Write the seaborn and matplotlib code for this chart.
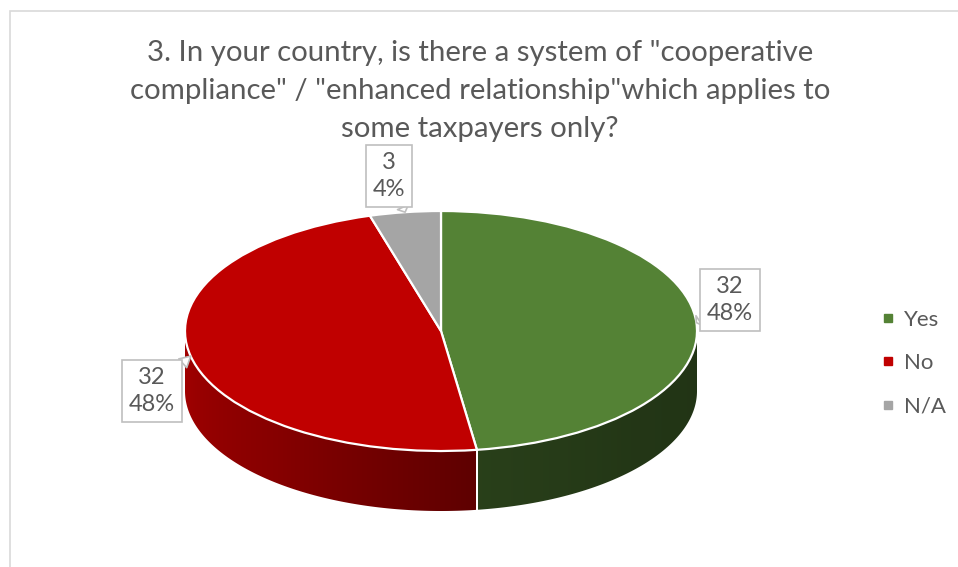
import numpy as np
import matplotlib
matplotlib.use("Agg")
import matplotlib.pyplot as plt
import seaborn as sns
from matplotlib.colors import to_rgb
from matplotlib.lines import Line2D
from matplotlib.patches import Rectangle, Polygon

# ---- data ----
categories = ["Yes", "No", "N/A"]
counts = [32, 32, 3]
slice_colors = ["#548235", "#C00000", "#A5A5A5"]
title_text = ('3. In your country, is there a system of "cooperative\n'
              'compliance" / "enhanced relationship"which applies to\n'
              'some taxpayers only?')

sns.set_theme(style="white")
plt.rcParams["font.family"] = ["Lato", "DejaVu Sans"]
TEXT = "#595959"

W, H = 958, 567
fig = plt.figure(figsize=(W / 100, H / 100), dpi=100)
ax = fig.add_axes([0, 0, 1, 1])

# pie placement (pixels): centre, horizontal / vertical radius, wall depth
cx, cy, rx, ry, depth = 441, 331, 256, 120, 60
d = depth / ry


def to_data(px, py):
    return (px - cx) / rx, (cy - py) / ry


# top face
wedges, _ = ax.pie(counts, colors=slice_colors, startangle=90, counterclock=False,
                   radius=1, wedgeprops=dict(edgecolor="white", linewidth=1.6))
for w in wedges:
    w.set_zorder(5)

ax.set_aspect("auto")
ax.axis("off")

# side walls of the visible (front) half, shaded from left to right
fracs = np.array(counts) / np.sum(counts)
cum = np.concatenate([[0], np.cumsum(fracs)])
starts = 90 - 360 * cum[:-1]
ends = 90 - 360 * cum[1:]
shade_t = [-180, -130, -82, -40, 0]
shade_f = [0.85, 0.70, 0.49, 0.42, 0.40]

xgrid = np.linspace(-1, 1, 600)
t_of_x = -np.degrees(np.arccos(xgrid))          # front-half angle for each x
shade_x = np.interp(t_of_x, shade_t, shade_f)

for s, e, col in zip(starts, ends, slice_colors):
    lo, hi = max(e, -180), min(s, 0)
    if hi <= lo:
        continue
    base = np.array(to_rgb(col))
    tt = np.radians(np.linspace(lo, hi, 200))
    xs, ys = np.cos(tt), np.sin(tt)
    outline = Polygon(np.column_stack([np.concatenate([xs, xs[::-1]]),
                                       np.concatenate([ys, ys[::-1] - d])]),
                      closed=True, fc="none", ec="none", transform=ax.transData)
    ax.add_patch(outline)
    grad = np.clip(base[None, None, :] * shade_x[None, :, None], 0, 1)
    img = ax.imshow(grad, extent=(-1, 1, -1 - d, 0.05), aspect="auto",
                    origin="lower", interpolation="bilinear", zorder=2)
    img.set_clip_path(outline)
    # white seam where walls of two slices meet
    for t in (lo, hi):
        if -180 < t < 0:
            r = np.radians(t)
            ax.plot([np.cos(r)] * 2, [np.sin(r), np.sin(r) - d],
                    color="white", lw=1.4, zorder=3)

ax.set_xlim(-cx / rx, (W - cx) / rx)
ax.set_ylim((cy - H) / ry, cy / ry)

# callout labels
label_boxes = [(730, 300), (152, 391), (389, 176)]
mids = (starts + ends) / 2
for cnt, fr, m, (bx, by) in zip(counts, fracs, mids, label_boxes):
    r = np.radians(m)
    ax.annotate(f"{cnt}\n{fr * 100:.0f}%", xy=(np.cos(r), np.sin(r)),
                xytext=to_data(bx, by), ha="center", va="center",
                fontsize=17, color=TEXT, linespacing=1.3, zorder=8,
                bbox=dict(boxstyle="square,pad=0.3", fc="white", ec="#BFBFBF", lw=1.2),
                arrowprops=dict(arrowstyle="wedge,tail_width=0.5", fc="white",
                                ec="#BFBFBF", lw=1.2, shrinkA=0, shrinkB=0))

# legend
handles = [Line2D([], [], marker="s", ls="", color=c, markersize=6) for c in slice_colors]
fig.legend(handles, categories, loc="center left",
           bbox_to_anchor=(861 / W, 1 - 363 / H), frameon=False, fontsize=16,
           labelcolor=TEXT, labelspacing=1.05, handlelength=0.6, handletextpad=0.45)

# title
fig.text(480 / W, 1 - 91 / H, title_text, ha="center", va="center",
         fontsize=21.2, color=TEXT, linespacing=1.56)

# chart frame
fig.add_artist(Rectangle((9.5 / W, -0.1), 1.2, (1 - 11 / H) + 0.1,
                         transform=fig.transFigure, fill=False,
                         ec="#D9D9D9", lw=1.2))

fig.savefig("out.png", dpi=100, facecolor="white")
